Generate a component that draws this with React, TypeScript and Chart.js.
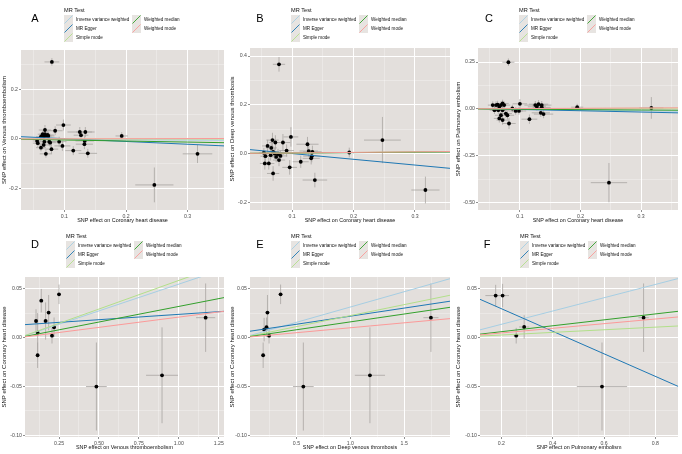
import React, { useEffect, useRef } from "react";
import { Chart, registerables } from "chart.js";

Chart.register(...registerables);

// ---------------- data ----------------
const methodNames = ["Inverse variance weighted", "MR Egger", "Simple mode", "Weighted median", "Weighted mode"];
const methodColors = ["#a6cee3", "#1f78b4", "#b2df8a", "#33a02c", "#fb9a99"];

const labelCHD = "SNP effect on Coronary heart disease";
const labelVTE = "SNP effect on Venous thromboembolism";
const labelDVT = "SNP effect on Deep venous thrombosis";
const labelPE = "SNP effect on Pulmonary embolism";

// Panel A: CHD -> VTE
const aBx = [0.0797, 0.0984, 0.0685, 0.085, 0.125, 0.134, 0.127, 0.0648, 0.0685, 0.0728, 0.062, 0.066, 0.07, 0.074, 0.0557, 0.0568, 0.0675, 0.0755, 0.077, 0.0915, 0.133, 0.1325, 0.0664, 0.0968, 0.062, 0.079, 0.1144, 0.07, 0.138, 0.193, 0.316, 0.246];
const aBy = [0.31, 0.056, 0.036, 0.033, 0.028, 0.028, 0.015, 0.019, 0.019, 0.016, 0.009, 0.009, 0.012, 0.012, -0.008, -0.017, -0.011, -0.011, -0.015, -0.011, -0.008, -0.021, -0.024, -0.028, -0.035, -0.041, -0.047, -0.06, -0.058, 0.012, -0.06, -0.185];
const aSeX = [0.012, 0.012, 0.01, 0.012, 0.02, 0.015, 0.012, 0.008, 0.009, 0.01, 0.008, 0.009, 0.01, 0.01, 0.007, 0.008, 0.009, 0.01, 0.01, 0.012, 0.015, 0.014, 0.009, 0.013, 0.008, 0.011, 0.013, 0.01, 0.015, 0.01, 0.024, 0.031];
const aSeY = [0.015, 0.022, 0.02, 0.018, 0.02, 0.02, 0.018, 0.015, 0.016, 0.018, 0.014, 0.015, 0.016, 0.017, 0.014, 0.015, 0.016, 0.017, 0.018, 0.02, 0.02, 0.02, 0.016, 0.02, 0.015, 0.018, 0.018, 0.015, 0.018, 0.015, 0.037, 0.07];
const aSlope = [-0.015, -0.1125, 0.0, -0.042, 0.005];
const aIntercept = [0, 0.0124, 0, 0, 0];
const aXLim = [0.0296, 0.359];
const aYLim = [-0.286, 0.358];
const aXTicks = [0.1, 0.2, 0.3];
const aXMinor = [0.05, 0.15, 0.25, 0.35];
const aYTicks = [-0.2, 0.0, 0.2];
const aYMinor = [-0.1, 0.1, 0.3];

// Panel B: CHD -> DVT
const bBx = [0.0786, 0.247, 0.317, 0.193, 0.137, 0.098, 0.085, 0.0727, 0.068, 0.06, 0.125, 0.127, 0.133, 0.132, 0.131, 0.114, 0.096, 0.091, 0.069, 0.0555, 0.062, 0.0565, 0.066, 0.069, 0.0716, 0.074, 0.077, 0.0786, 0.081, 0.065, 0.054];
const bBy = [0.366, 0.055, -0.15, 0.004, -0.109, 0.068, 0.045, 0.045, 0.055, 0.031, 0.038, 0.01, 0.007, -0.011, -0.02, -0.034, -0.057, 0.012, -0.082, -0.041, -0.041, -0.011, 0.023, 0.007, 0.0, -0.014, -0.003, -0.027, -0.01, -0.007, 0.003];
const bSeX = [0.01, 0.03, 0.023, 0.01, 0.02, 0.012, 0.012, 0.01, 0.01, 0.009, 0.018, 0.015, 0.015, 0.014, 0.014, 0.013, 0.012, 0.012, 0.01, 0.008, 0.009, 0.008, 0.009, 0.01, 0.01, 0.01, 0.01, 0.01, 0.011, 0.009, 0.008];
const bSeY = [0.03, 0.095, 0.055, 0.02, 0.03, 0.04, 0.035, 0.03, 0.03, 0.025, 0.03, 0.025, 0.025, 0.025, 0.025, 0.025, 0.03, 0.025, 0.03, 0.025, 0.025, 0.022, 0.025, 0.022, 0.022, 0.022, 0.022, 0.025, 0.022, 0.022, 0.02];
const bSlope = [0.015, -0.236, 0.02, 0.018, 0.022];
const bIntercept = [0, 0.0233, 0, 0, 0];
const bXLim = [0.0314, 0.357];
const bYLim = [-0.232, 0.433];
const bXTicks = [0.1, 0.2, 0.3];
const bXMinor = [0.05, 0.15, 0.25, 0.35];
const bYTicks = [-0.2, 0.0, 0.2, 0.4];
const bYMinor = [-0.1, 0.1, 0.3];

// Panel C: CHD -> PE
const cBx = [0.081, 0.247, 0.317, 0.1946, 0.1, 0.1157, 0.082, 0.0551, 0.0606, 0.0632, 0.066, 0.0687, 0.0714, 0.074, 0.0643, 0.058, 0.0714, 0.0768, 0.0794, 0.0687, 0.066, 0.0714, 0.0875, 0.093, 0.0984, 0.1254, 0.1308, 0.136, 0.128, 0.136, 0.1345, 0.139];
const cBy = [0.249, -0.394, 0.005, 0.009, 0.027, -0.055, -0.078, 0.02, 0.02, 0.023, 0.011, 0.02, 0.029, 0.02, -0.007, -0.007, -0.007, -0.025, -0.034, -0.034, -0.051, -0.06, 0.002, -0.011, -0.011, 0.02, 0.025, 0.02, 0.011, 0.008, -0.021, -0.028];
const cSeX = [0.01, 0.03, 0.02, 0.01, 0.012, 0.013, 0.011, 0.008, 0.008, 0.009, 0.009, 0.01, 0.01, 0.01, 0.009, 0.008, 0.01, 0.01, 0.011, 0.01, 0.009, 0.01, 0.012, 0.012, 0.012, 0.018, 0.016, 0.016, 0.015, 0.015, 0.015, 0.016];
const cSeY = [0.02, 0.105, 0.058, 0.018, 0.025, 0.025, 0.03, 0.02, 0.02, 0.02, 0.02, 0.02, 0.02, 0.02, 0.02, 0.02, 0.02, 0.022, 0.022, 0.022, 0.022, 0.025, 0.02, 0.02, 0.02, 0.022, 0.022, 0.022, 0.02, 0.02, 0.022, 0.022];
const cSlope = [-0.035, -0.07, 0.01, -0.02, 0.015];
const cIntercept = [0, 0.004, 0, 0, 0];
const cXLim = [0.0308, 0.361];
const cYLim = [-0.54, 0.325];
const cXTicks = [0.1, 0.2, 0.3];
const cXMinor = [0.05, 0.15, 0.25, 0.35];
const cYTicks = [-0.5, -0.25, 0.0, 0.25];
const cYMinor = [-0.375, -0.125, 0.125];

// Panel D: VTE -> CHD
const dBx = [0.139, 0.25, 0.185, 0.106, 0.166, 0.219, 0.116, 0.206, 0.116, 0.484, 0.895, 1.168];
const dBy = [0.0378, 0.0443, 0.0256, 0.017, 0.017, 0.0106, 0.0051, 0.002, -0.018, -0.05, -0.0385, 0.0204];
const dSeX = [0.012, 0.012, 0.012, 0.01, 0.012, 0.012, 0.01, 0.012, 0.01, 0.065, 0.1, 0.06];
const dSeY = [0.012, 0.01, 0.018, 0.012, 0.019, 0.01, 0.02, 0.008, 0.013, 0.045, 0.049, 0.035];
const dSlope = [0.0547, 0.0109, 0.0585, 0.0319, 0.021];
const dIntercept = [0, 0.0129, 0, 0, 0];
const dXLim = [0.037, 1.283];
const dYLim = [-0.1016, 0.062];
const dXTicks = [0.25, 0.5, 0.75, 1.0, 1.25];
const dXMinor = [0.125, 0.375, 0.625, 0.875, 1.125];
const dYTicks = [-0.1, -0.05, 0.0, 0.05];
const dYMinor = [-0.075, -0.025, 0.025];

// Panel E: DVT -> CHD
const eBx = [0.353, 0.231, 0.222, 0.2, 0.246, 0.191, 0.564, 1.182, 1.748];
const eBy = [0.0443, 0.0256, 0.0106, 0.0082, 0.002, -0.018, -0.05, -0.0385, 0.0204];
const eSeX = [0.02, 0.02, 0.02, 0.02, 0.02, 0.02, 0.096, 0.14, 0.07];
const eSeY = [0.01, 0.018, 0.01, 0.012, 0.008, 0.013, 0.045, 0.049, 0.035];
const eSlope = [0.0313, 0.01654, 0.0225, 0.0161, 0.0101];
const eIntercept = [0, 0.0054, 0, 0, 0];
const eXLim = [0.069, 1.925];
const eYLim = [-0.1016, 0.062];
const eXTicks = [0.5, 1.0, 1.5];
const eXMinor = [0.25, 0.75, 1.25, 1.75];
const eYTicks = [-0.1, -0.05, 0.0, 0.05];
const eYMinor = [-0.075, -0.025, 0.025];

// Panel F: PE -> CHD
const fBx = [0.178, 0.205, 0.289, 0.258, 0.592, 0.754];
const fBy = [0.043, 0.043, 0.0109, 0.002, -0.05, 0.0204];
const fSeX = [0.04, 0.025, 0.02, 0.01, 0.098, 0.02];
const fSeY = [0.011, 0.012, 0.012, 0.008, 0.045, 0.035];
const fSlope = [0.068, -0.1154, 0.0134, 0.0303, 0.0238];
const fIntercept = [0, 0.0527, 0, 0, 0];
const fXLim = [0.117, 0.888];
const fYLim = [-0.1016, 0.062];
const fXTicks = [0.2, 0.4, 0.6, 0.8];
const fXMinor = [0.3, 0.5, 0.7];
const fYTicks = [-0.1, -0.05, 0.0, 0.05];
const fYMinor = [-0.075, -0.025, 0.025];

// ---------------- styling / layout ----------------
const FONT = "'Liberation Sans', Arial, Helvetica, sans-serif";
const PANEL_BG = "#e3dfdc";
const KEY_BG = "#e7e4e1";
const ERR_COLOR = "#a8a4a1";

type Box = { left: number; top: number; width: number; height: number; yAxisW: number; plotTop: number; padRight: number; xAxisH: number; letterX: number };

const layouts: Box[] = [
  { left: 0, top: 0, width: 228, height: 226, yAxisW: 21, plotTop: 50, padRight: 1, xAxisH: 16, letterX: 35 },
  { left: 228, top: 0, width: 226, height: 226, yAxisW: 22, plotTop: 48, padRight: 2, xAxisH: 16, letterX: 32 },
  { left: 454, top: 0, width: 228, height: 226, yAxisW: 24, plotTop: 48, padRight: 0, xAxisH: 16, letterX: 35 },
  { left: 0, top: 226, width: 228, height: 228, yAxisW: 25, plotTop: 51, padRight: 4, xAxisH: 17, letterX: 35 },
  { left: 228, top: 226, width: 226, height: 228, yAxisW: 22, plotTop: 51, padRight: 2, xAxisH: 17, letterX: 32 },
  { left: 454, top: 226, width: 228, height: 228, yAxisW: 26, plotTop: 51, padRight: 0, xAxisH: 17, letterX: 33 },
];

type PanelData = {
  letter: string; xTitle: string; yTitle: string;
  bx: number[]; by: number[]; sx: number[]; sy: number[];
  slope: number[]; intercept: number[];
  xLim: number[]; yLim: number[];
  xTicks: number[]; xMinor: number[]; yTicks: number[]; yMinor: number[];
  xDec: number; yDec: number;
};

const panels: PanelData[] = [
  { letter: "A", xTitle: labelCHD, yTitle: labelVTE, bx: aBx, by: aBy, sx: aSeX, sy: aSeY, slope: aSlope, intercept: aIntercept, xLim: aXLim, yLim: aYLim, xTicks: aXTicks, xMinor: aXMinor, yTicks: aYTicks, yMinor: aYMinor, xDec: 1, yDec: 1 },
  { letter: "B", xTitle: labelCHD, yTitle: labelDVT, bx: bBx, by: bBy, sx: bSeX, sy: bSeY, slope: bSlope, intercept: bIntercept, xLim: bXLim, yLim: bYLim, xTicks: bXTicks, xMinor: bXMinor, yTicks: bYTicks, yMinor: bYMinor, xDec: 1, yDec: 1 },
  { letter: "C", xTitle: labelCHD, yTitle: labelPE, bx: cBx, by: cBy, sx: cSeX, sy: cSeY, slope: cSlope, intercept: cIntercept, xLim: cXLim, yLim: cYLim, xTicks: cXTicks, xMinor: cXMinor, yTicks: cYTicks, yMinor: cYMinor, xDec: 1, yDec: 2 },
  { letter: "D", xTitle: labelVTE, yTitle: labelCHD, bx: dBx, by: dBy, sx: dSeX, sy: dSeY, slope: dSlope, intercept: dIntercept, xLim: dXLim, yLim: dYLim, xTicks: dXTicks, xMinor: dXMinor, yTicks: dYTicks, yMinor: dYMinor, xDec: 2, yDec: 2 },
  { letter: "E", xTitle: labelDVT, yTitle: labelCHD, bx: eBx, by: eBy, sx: eSeX, sy: eSeY, slope: eSlope, intercept: eIntercept, xLim: eXLim, yLim: eYLim, xTicks: eXTicks, xMinor: eXMinor, yTicks: eYTicks, yMinor: eYMinor, xDec: 1, yDec: 2 },
  { letter: "F", xTitle: labelPE, yTitle: labelCHD, bx: fBx, by: fBy, sx: fSeX, sy: fSeY, slope: fSlope, intercept: fIntercept, xLim: fXLim, yLim: fYLim, xTicks: fXTicks, xMinor: fXMinor, yTicks: fYTicks, yMinor: fYMinor, xDec: 1, yDec: 2 },
];

const near = (a: number, b: number) => Math.abs(a - b) < 1e-9;

function axisOptions(major: number[], minor: number[], lim: number[], dec: number, title: string, isX: boolean, box: Box) {
  const all = [...major, ...minor].filter((v) => v >= lim[0] && v <= lim[1]).sort((a, b) => a - b);
  const isMajor = (v: number) => major.some((m) => near(m, v));
  return {
    type: "linear",
    position: isX ? "bottom" : "left",
    min: lim[0],
    max: lim[1],
    bounds: "data",
    afterBuildTicks: (s: any) => {
      s.ticks = all.map((v) => ({ value: v }));
    },
    afterFit: (s: any) => {
      if (isX) s.height = box.xAxisH;
      else s.width = box.yAxisW;
    },
    border: { display: false },
    grid: {
      color: (c: any) => (isMajor(c.tick?.value) ? "#ffffff" : "rgba(255,255,255,0.6)"),
      lineWidth: (c: any) => (isMajor(c.tick?.value) ? 1 : 0.5),
      drawTicks: true,
      tickLength: 2,
      tickWidth: 0.6,
      tickColor: (c: any) => (isMajor(c.tick?.value) ? "#444444" : "rgba(0,0,0,0)"),
    },
    ticks: {
      autoSkip: false,
      maxRotation: 0,
      minRotation: 0,
      padding: 1,
      color: "#4d4d4d",
      font: { family: FONT, size: 5.2 },
      callback: (v: number) => (isMajor(v) ? Number(v).toFixed(dec) : ""),
    },
    title: {
      display: true,
      text: title,
      color: "#111111",
      font: { family: FONT, size: isX ? 5.4 : 6.0 },
      padding: isX ? { top: 0, bottom: box.xAxisH === 16 ? 1.8 : 3 } : { top: 1, bottom: 0 },
    },
  };
}

function Panel({ p, box }: { p: PanelData; box: Box }) {
  const ref = useRef<HTMLCanvasElement>(null);
  useEffect(() => {
    const canvas = ref.current;
    if (!canvas) return;
    const [xMin, xMax] = p.xLim;

    const lineSets = methodNames
      .map((name, k) => ({
        type: "line" as const,
        label: name,
        data: [
          { x: xMin, y: p.intercept[k] + p.slope[k] * xMin },
          { x: xMax, y: p.intercept[k] + p.slope[k] * xMax },
        ],
        borderColor: methodColors[k],
        backgroundColor: methodColors[k],
        borderWidth: 1,
        pointRadius: 0,
        fill: false,
        tension: 0,
      }))
      .reverse();

    const pointSet = {
      type: "scatter" as const,
      label: "SNPs",
      data: p.bx.map((x, i) => ({ x, y: p.by[i] })),
      pointRadius: 1.9,
      pointBackgroundColor: "#000000",
      pointBorderColor: "#000000",
      pointBorderWidth: 0,
      showLine: false,
    };

    const bgPlugin = {
      id: "panelBg",
      beforeDraw(chart: any) {
        const { ctx, chartArea: a } = chart;
        ctx.save();
        ctx.fillStyle = PANEL_BG;
        ctx.fillRect(a.left, a.top, a.right - a.left, a.bottom - a.top);
        ctx.restore();
      },
    };

    const errPlugin = {
      id: "errBars",
      beforeDatasetsDraw(chart: any) {
        const { ctx, chartArea: a, scales } = chart;
        const xs = scales.x;
        const ys = scales.y;
        ctx.save();
        ctx.beginPath();
        ctx.rect(a.left, a.top, a.right - a.left, a.bottom - a.top);
        ctx.clip();
        ctx.strokeStyle = ERR_COLOR;
        ctx.lineWidth = 0.8;
        p.bx.forEach((x, i) => {
          const y = p.by[i];
          const px = xs.getPixelForValue(x);
          const py = ys.getPixelForValue(y);
          ctx.beginPath();
          ctx.moveTo(xs.getPixelForValue(x - p.sx[i]), py);
          ctx.lineTo(xs.getPixelForValue(x + p.sx[i]), py);
          ctx.moveTo(px, ys.getPixelForValue(y - p.sy[i]));
          ctx.lineTo(px, ys.getPixelForValue(y + p.sy[i]));
          ctx.stroke();
        });
        ctx.restore();
      },
    };

    const legendPlugin = {
      id: "mrLegend",
      afterDraw(chart: any) {
        const { ctx, chartArea: a } = chart;
        ctx.save();
        ctx.fillStyle = "#000000";
        ctx.font = `11px ${FONT}`;
        ctx.textAlign = "center";
        ctx.textBaseline = "middle";
        ctx.fillText(p.letter, box.letterX, 19);

        const legendW = 118;
        const x0 = Math.round((a.left + a.right) / 2 - legendW / 2);
        ctx.textAlign = "left";
        ctx.font = `5.6px ${FONT}`;
        ctx.fillStyle = "#111111";
        ctx.fillText("MR Test", x0, 10);

        const keyW = 9;
        const keyH = 9;
        const col2 = 68;
        ctx.font = `4.6px ${FONT}`;
        methodNames.forEach((name, k) => {
          const col = k < 3 ? 0 : 1;
          const row = k < 3 ? k : k - 3;
          const kx = x0 + col * col2;
          const ky = 15 + row * keyH;
          ctx.fillStyle = KEY_BG;
          ctx.fillRect(kx, ky, keyW, keyH);
          ctx.strokeStyle = methodColors[k];
          ctx.lineWidth = 0.9;
          ctx.beginPath();
          ctx.moveTo(kx + 0.5, ky + keyH - 0.5);
          ctx.lineTo(kx + keyW - 0.5, ky + 0.5);
          ctx.stroke();
          ctx.fillStyle = "#111111";
          ctx.fillText(name, kx + keyW + 3, ky + keyH / 2);
        });
        ctx.restore();
      },
    };

    const chart = new Chart(canvas, {
      type: "scatter",
      data: { datasets: [...lineSets, pointSet] as any },
      options: {
        animation: false,
        responsive: false,
        events: [],
        layout: { padding: { left: 0, top: box.plotTop, right: box.padRight, bottom: 0 } },
        plugins: {
          legend: { display: false },
          tooltip: { enabled: false },
          title: { display: false },
        },
        scales: {
          x: axisOptions(p.xTicks, p.xMinor, p.xLim, p.xDec, p.xTitle, true, box) as any,
          y: axisOptions(p.yTicks, p.yMinor, p.yLim, p.yDec, p.yTitle, false, box) as any,
        },
      },
      plugins: [bgPlugin, errPlugin, legendPlugin],
    });
    return () => chart.destroy();
  }, [p, box]);

  return (
    <canvas
      ref={ref}
      width={box.width}
      height={box.height}
      style={{ position: "absolute", left: box.left, top: box.top, width: box.width, height: box.height }}
    />
  );
}

export default function App() {
  return (
    <div style={{ position: "fixed", left: 0, top: 0, width: 682, height: 454, background: "#ffffff", overflow: "hidden" }}>
      {panels.map((p, i) => (
        <Panel key={p.letter} p={p} box={layouts[i]} />
      ))}
    </div>
  );
}
